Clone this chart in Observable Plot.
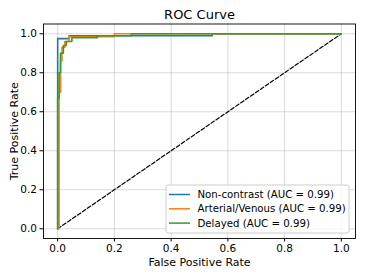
<!DOCTYPE html>
<html><head><meta charset="utf-8">
<script src="https://cdn.jsdelivr.net/npm/d3@7"></script>
<script src="https://cdn.jsdelivr.net/npm/@observablehq/plot@0.6"></script>
<style>body{margin:0;background:#fff} svg{font-family:"DejaVu Sans",sans-serif}</style>
</head><body><div id="chart"></div>
<script>
const seriesNames = ["Non-contrast (AUC = 0.99)", "Arterial/Venous (AUC = 0.99)", "Delayed (AUC = 0.99)"];
const seriesColors = ["#1f77b4", "#ff7f0e", "#2ca02c"];
const tickValues = [0, 0.2, 0.4, 0.6, 0.8, 1.0];

const nonContrastFpr = [0, 0, 0.04, 0.04, 0.545, 0.545, 1];
const nonContrastTpr = [0, 0.975, 0.975, 0.99, 0.99, 1, 1];

const arterialFpr = [0, 0.005, 0.005, 0.01, 0.01, 0.015, 0.015, 0.025, 0.025, 0.04, 0.04, 0.2, 0.2, 0.26, 0.26, 1];
const arterialTpr = [0, 0, 0.70, 0.70, 0.86, 0.86, 0.93, 0.93, 0.96, 0.96, 0.985, 0.985, 1, 1, 1, 1];

const delayedFpr = [0, 0, 0.005, 0.005, 0.01, 0.01, 0.02, 0.02, 0.03, 0.03, 0.05, 0.05, 0.14, 0.14, 0.26, 0.26, 1];
const delayedTpr = [0, 0.67, 0.67, 0.80, 0.80, 0.90, 0.90, 0.94, 0.94, 0.96, 0.96, 0.98, 0.98, 0.99, 0.99, 1, 1];

const diagonal = [0, 1];

const allFpr = [nonContrastFpr, arterialFpr, delayedFpr];
const allTpr = [nonContrastTpr, arterialTpr, delayedTpr];
const rows = [];
seriesNames.forEach((name, i) => {
  allFpr[i].forEach((f, j) => rows.push({series: name, fpr: f, tpr: allTpr[i][j]}));
});

const plot = Plot.plot({
  width: 366, height: 274,
  marginLeft: 43, marginRight: 11, marginTop: 23.5, marginBottom: 36,
  style: {fontFamily: "DejaVu Sans, sans-serif", fontSize: "10.5px", color: "#000", background: "#fff", overflow: "visible"},
  x: {domain: [-0.05, 1.05]},
  y: {domain: [-0.05, 1.05]},
  color: {domain: seriesNames, range: seriesColors},
  marks: [
    Plot.gridX(tickValues, {stroke: "#b0b0b0", strokeOpacity: 0.6, strokeWidth: 0.8}),
    Plot.gridY(tickValues, {stroke: "#b0b0b0", strokeOpacity: 0.6, strokeWidth: 0.8}),
    Plot.line(diagonal, {x: d => d, y: d => d, stroke: "black", strokeWidth: 1.2, strokeDasharray: "4,2"}),
    Plot.line(rows, {x: "fpr", y: "tpr", z: "series", stroke: "series", strokeWidth: 1.6}),
    Plot.frame({stroke: "#000", strokeWidth: 0.9}),
    Plot.axisX(tickValues, {tickFormat: d3.format(".1f"), tickSize: 3.5, tickPadding: 2.5, label: "False Positive Rate", labelAnchor: "center", labelArrow: "none", labelOffset: 27, fontSize: 10.5}),
    Plot.axisY(tickValues, {tickFormat: d3.format(".1f"), tickSize: 3.5, tickPadding: 3, label: "True Positive Rate", labelAnchor: "center", labelArrow: "none", labelOffset: 33, fontSize: 10.5}),
    Plot.text(["ROC Curve"], {frameAnchor: "top", lineAnchor: "bottom", dy: -5, fontSize: 13, fill: "#000"})
  ]
});

const svg = d3.select(plot);
svg.selectAll('[aria-label="x-axis label"], [aria-label="y-axis label"]').attr("font-size", 11);
svg.selectAll('[aria-label="x-axis label"] text, [aria-label="y-axis label"] text').attr("font-size", 11);
const lg = svg.append("g").attr("font-size", 10.2).attr("text-anchor", "start");
lg.append("rect").attr("x", 166).attr("y", 185).attr("width", 183).attr("height", 48)
  .attr("rx", 2).attr("fill", "#fff").attr("fill-opacity", 0.8).attr("stroke", "#cccccc").attr("stroke-width", 1);
seriesNames.forEach((name, i) => {
  const cy = 194.5 + i * 14.3;
  lg.append("line").attr("x1", 169).attr("x2", 190).attr("y1", cy).attr("y2", cy)
    .attr("stroke", seriesColors[i]).attr("stroke-width", 1.5);
  lg.append("text").attr("x", 197.5).attr("y", cy).attr("dy", "0.35em").attr("fill", "#000").text(name);
});

document.getElementById("chart").appendChild(plot);
</script>
</body></html>
